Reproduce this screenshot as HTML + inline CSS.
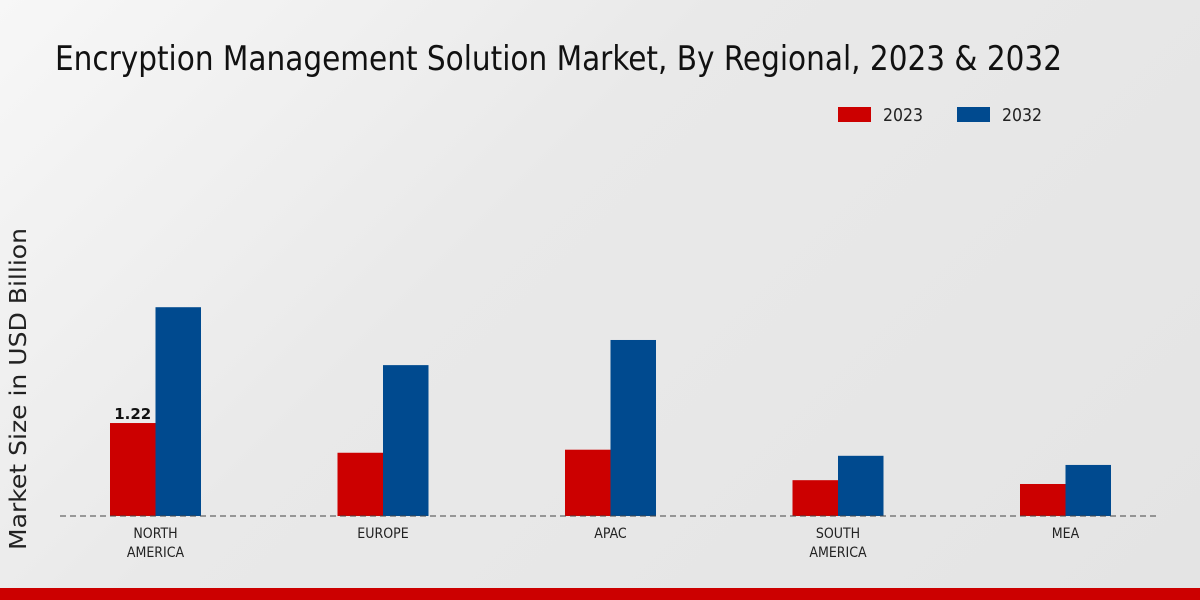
<!DOCTYPE html>
<html><head><meta charset="utf-8"><style>
html,body{margin:0;padding:0;width:1200px;height:600px;overflow:hidden;}
body{background:linear-gradient(135deg,#f7f7f7 0%,#e9e9e9 40%,#e4e4e4 100%);font-family:"Liberation Sans",sans-serif;}
</style></head><body>
<svg id="chart" width="1200" height="600" xmlns="http://www.w3.org/2000/svg">
<text x="55" y="70" font-family="DejaVu Sans Condensed, Liberation Sans, sans-serif" font-size="34" fill="#111" textLength="1007" lengthAdjust="spacingAndGlyphs">Encryption Management Solution Market, By Regional, 2023 &amp; 2032</text>
<g>
<rect x="838" y="107" width="33" height="15" fill="#cc0000"/>
<text x="883" y="121" font-size="18" fill="#222" font-family="DejaVu Sans Condensed, Liberation Sans, sans-serif" textLength="40" lengthAdjust="spacingAndGlyphs">2023</text>
<rect x="957" y="107" width="33" height="15" fill="#004a8f"/>
<text x="1002" y="121" font-size="18" fill="#222" font-family="DejaVu Sans Condensed, Liberation Sans, sans-serif" textLength="40" lengthAdjust="spacingAndGlyphs">2032</text>
</g>
<text transform="translate(26,389) rotate(-90)" text-anchor="middle" font-size="23" fill="#222" font-family="DejaVu Sans, Liberation Sans, sans-serif" textLength="322" lengthAdjust="spacingAndGlyphs">Market Size in USD Billion</text>
<g id="bars"></g>
<line x1="60" y1="516" x2="1160" y2="516" stroke="#444" stroke-width="1" stroke-dasharray="6,4"/>
<g id="labels"></g>
<rect x="0" y="588" width="1200" height="12" fill="#cc0000"/>
</svg>
<script>
const categories = [["NORTH","AMERICA"],["EUROPE"],["APAC"],["SOUTH","AMERICA"],["MEA"]];
const values2023 = [1.22,0.83,0.87,0.47,0.42];
const values2032 = [2.74,1.98,2.31,0.79,0.67];
const ns="http://www.w3.org/2000/svg";
const baseY=516, pxPerUnit=76.2, x0=155.5, step=227.5, bw=45.5;
const y=v=>baseY-v*pxPerUnit;
const xc=i=>x0+i*step;
const bars=document.getElementById('bars'), labels=document.getElementById('labels');
categories.forEach((c,i)=>{
  const r1=document.createElementNS(ns,'rect');
  r1.setAttribute('x',xc(i)-bw);r1.setAttribute('y',y(values2023[i]));r1.setAttribute('width',bw);r1.setAttribute('height',baseY-y(values2023[i]));r1.setAttribute('fill','#cc0000');
  
  
  bars.appendChild(r1);
  const r2=document.createElementNS(ns,'rect');
  r2.setAttribute('x',xc(i));r2.setAttribute('y',y(values2032[i]));r2.setAttribute('width',bw);r2.setAttribute('height',baseY-y(values2032[i]));r2.setAttribute('fill','#004a8f');
  
  
  bars.appendChild(r2);
  c.forEach((line,j)=>{
    const t=document.createElementNS(ns,'text');
    t.setAttribute('x',xc(i));t.setAttribute('y',538+j*19);t.setAttribute('text-anchor','middle');
    t.setAttribute('font-size','14');t.setAttribute('fill','#222');
    t.setAttribute('font-family','DejaVu Sans Condensed, Liberation Sans Narrow, Liberation Sans, sans-serif');
    t.textContent=line;
    
    
    labels.appendChild(t);
  });
});
const vl=document.createElementNS(ns,'text');
vl.setAttribute('x',xc(0)-bw/2);vl.setAttribute('y',y(values2023[0])-4);vl.setAttribute('text-anchor','middle');
vl.setAttribute('font-size','15');vl.setAttribute('font-weight','bold');vl.setAttribute('fill','#111');
vl.setAttribute('font-family','DejaVu Sans, Liberation Sans, sans-serif');
vl.textContent=values2023[0].toFixed(2);


labels.appendChild(vl);
</script>
</body></html>
